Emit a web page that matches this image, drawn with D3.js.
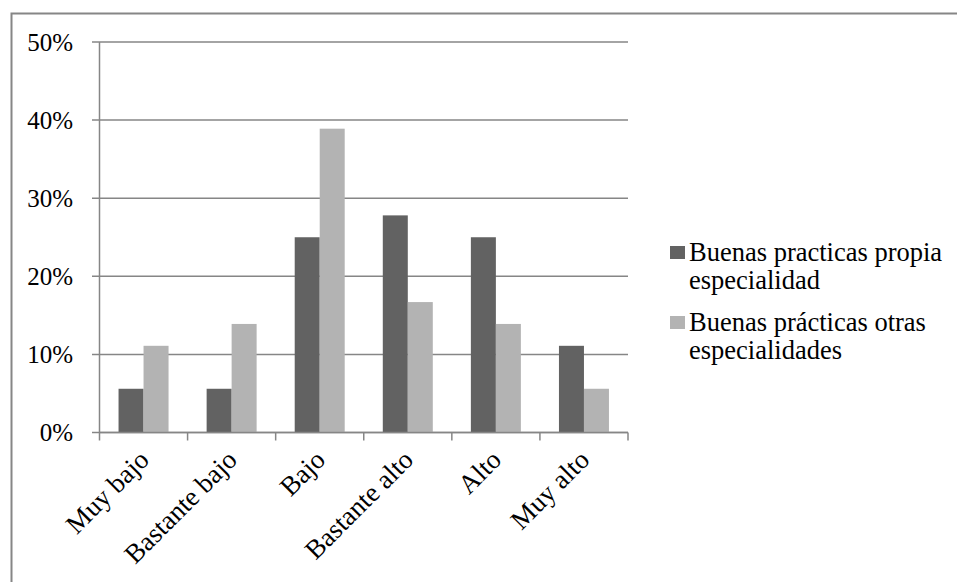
<!DOCTYPE html>
<html><head><meta charset="utf-8">
<script src="https://cdn.jsdelivr.net/npm/d3@7/dist/d3.min.js"></script>
<style>body{margin:0;background:#fff}svg{display:block}text{font-family:"Liberation Serif","Times New Roman",serif;fill:#000}</style>
</head><body>
<script>
const categories = ["Muy bajo","Bastante bajo","Bajo","Bastante alto","Alto","Muy alto"];
const seriesNames = ["Buenas practicas propia especialidad","Buenas prácticas otras especialidades"];
const propia = [5.6, 5.6, 25.0, 27.8, 25.0, 11.1];
const otras = [11.1, 13.9, 38.9, 16.7, 13.9, 5.6];
const yTicks = [0,10,20,30,40,50];
const colors = ["#626262","#b3b3b3"];

const W=957,H=582;
const svg=d3.select("body").append("svg").attr("width",W).attr("height",H);
svg.append("rect").attr("x",11.5).attr("y",13.5).attr("width",W+20).attr("height",H+20).attr("fill","none").attr("stroke","#868686").attr("stroke-width",2);

const pL=99.5,pR=628,pT=42,pB=432.5;
const x=d3.scaleBand().domain(categories).range([pL,pR]);
const y=d3.scaleLinear().domain([0,50]).range([pB,pT]);
const x1=d3.scaleBand().domain([0,1]).range([0,50]);

// gridlines
svg.append("g").selectAll("line").data(yTicks).join("line")
 .attr("x1",92).attr("x2",pR).attr("y1",d=>y(d)).attr("y2",d=>y(d))
 .attr("stroke","#868686").attr("stroke-width",1.5);
// y axis
svg.append("line").attr("x1",pL).attr("x2",pL).attr("y1",pT).attr("y2",pB).attr("stroke","#868686").attr("stroke-width",1.5);
svg.append("g").selectAll("text").data(yTicks).join("text")
 .attr("x",73).attr("y",d=>y(d)+8.5).attr("text-anchor","end").attr("font-size",25).text(d=>d+"%");

// bars
const data=[propia,otras];
categories.forEach((c,i)=>{
  const cx=x(c)+x.bandwidth()/2-25;
  data.forEach((s,j)=>{
    svg.append("rect").attr("x",cx+x1(j)).attr("width",x1.bandwidth())
      .attr("y",y(s[i])).attr("height",y(0)-y(s[i])).attr("fill",colors[j]);
  });
});

// x axis
svg.append("line").attr("x1",pL).attr("x2",pR).attr("y1",pB).attr("y2",pB).attr("stroke","#868686").attr("stroke-width",1.5);
const tickXs=categories.map(c=>x(c)).concat([pR]);
svg.append("g").selectAll("line").data(tickXs).join("line")
 .attr("x1",d=>d).attr("x2",d=>d).attr("y1",pB).attr("y2",pB+8).attr("stroke","#868686").attr("stroke-width",1.5);
svg.append("g").selectAll("text").data(categories).join("text")
 .attr("transform",c=>`translate(${x(c)+x.bandwidth()/2+7},${pB+29}) rotate(-45)`)
 .attr("text-anchor","end").attr("font-size",27).text(c=>c);

// legend
const lg=svg.append("g");
const lines=[["Buenas practicas propia","especialidad"],["Buenas prácticas otras","especialidades"]];
lines.forEach((l,j)=>{
  const by=261+j*70;
  lg.append("rect").attr("x",670).attr("y",by-15).attr("width",15).attr("height",13).attr("fill",colors[j]);
  lg.append("text").attr("x",689).attr("y",by).attr("font-size",26.5).text(l[0]);
  lg.append("text").attr("x",689).attr("y",by+28).attr("font-size",26.5).text(l[1]);
});
</script>
</body></html>
